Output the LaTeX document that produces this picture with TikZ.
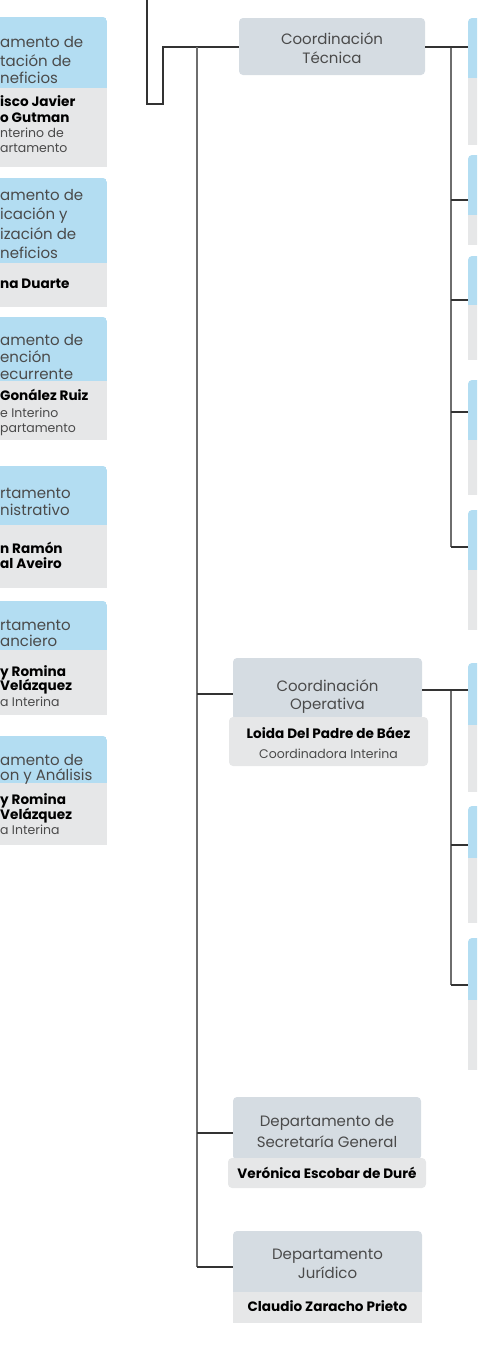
\documentclass[tikz,border=0pt]{standalone}
\usepackage{fontspec}
\setmainfont{Poppins}
\definecolor{hdrblue}{HTML}{B3DDF2}
\definecolor{bodygrey}{HTML}{E6E7E8}
\definecolor{coordfill}{HTML}{D5DCE2}
\definecolor{linedark}{HTML}{333333}
\definecolor{spinegrey}{HTML}{6E6E6E}
\definecolor{titlegrey}{HTML}{4A4A4A}
\newcommand\orgbox[6]{%
  \begin{scope}
    \clip[rounded corners=4pt] (#2,#4) rectangle (#3,#6+20);
    \fill[hdrblue] (#2,#4) rectangle (#3,#5);
    \fill[bodygrey] (#2,#5) rectangle (#3,#6);
  \end{scope}
  \coordinate (#1) at (#2,#4);}
\begin{document}
\begin{tikzpicture}[x=1pt,y=-1pt,
  ttl/.style={font=\fontsize{15}{18}\selectfont, text=titlegrey, inner sep=0pt, text height=1.5ex, text depth=.3ex, yshift=-3pt},
  nm/.style={font=\bfseries\fontsize{13.6}{15}\selectfont, text=black, inner sep=0pt, text height=1.5ex, text depth=.3ex, yshift=-2pt},
  sub/.style={font=\fontsize{12.5}{14}\selectfont, text=titlegrey, inner sep=0pt, text height=1.5ex, text depth=.3ex, yshift=-2pt},
  coordbox/.style={fill=coordfill, rounded corners=4pt, inner sep=0pt},
  namebox/.style={fill=bodygrey, rounded corners=4pt, inner sep=0pt},
  conn/.style={draw=linedark, line width=1.2pt},
  spine/.style={draw=spinegrey, line width=1.8pt},
]
\useasboundingbox (0,0) rectangle (477,1355);
\clip (0,0) rectangle (477,1355);

% ---------- left column (cut) ----------
\orgbox{l1}{-20}{107}{17}{88}{167}
\orgbox{l2}{-20}{107}{178}{263}{307}
\orgbox{l3}{-20}{107}{317}{381}{440}
\orgbox{l4}{-20}{107}{466}{525}{588}
\orgbox{l5}{-20}{107}{601}{650}{715}
\orgbox{l6}{-20}{107}{736}{783}{845}

\node[ttl, anchor=west] (l1a) at (0,41) {amento de};
\node[ttl, anchor=west] (l1b) at (0,60) {tación de};
\node[ttl, anchor=west] (l1c) at (0,77) {neficios};
\node[nm, anchor=west] (l1d) at (0,101) {isco Javier};
\node[nm, anchor=west] (l1e) at (0,117) {o Gutman};
\node[sub, anchor=west] (l1f) at (0,132) {nterino de};
\node[sub, anchor=west] (l1g) at (0,147) {artamento};

\node[ttl, anchor=west] (l2a) at (0,194) {amento de};
\node[ttl, anchor=west] (l2b) at (0,213) {icación y};
\node[ttl, anchor=west] (l2c) at (0,233) {ización de};
\node[ttl, anchor=west] (l2d) at (0,252) {neficios};
\node[nm, anchor=west] (l2e) at (0,283) {na Duarte};

\node[ttl, anchor=west] (l3a) at (0,339) {amento de};
\node[ttl, anchor=west] (l3b) at (0,356) {ención};
\node[ttl, anchor=west] (l3c) at (0,373) {ecurrente};
\node[nm, anchor=west] (l3d) at (0,395) {Gonález Ruiz};
\node[sub, anchor=west] (l3e) at (0,412) {e Interino};
\node[sub, anchor=west] (l3f) at (0,427) {partamento};

\node[ttl, anchor=west] (l4a) at (0,492) {rtamento};
\node[ttl, anchor=west] (l4b) at (0,509) {nistrativo};
\node[nm, anchor=west] (l4c) at (0,548) {n Ramón};
\node[nm, anchor=west] (l4d) at (0,563) {al Aveiro};

\node[ttl, anchor=west] (l5a) at (0,624) {rtamento};
\node[ttl, anchor=west] (l5b) at (0,640) {anciero};
\node[nm, anchor=west] (l5c) at (0,671) {y Romina};
\node[nm, anchor=west] (l5d) at (0,685) {Velázquez};
\node[sub, anchor=west] (l5e) at (0,701) {a Interina};

\node[ttl, anchor=west] (l6a) at (0,759) {amento de};
\node[ttl, anchor=west] (l6b) at (0,774) {on y Análisis};
\node[nm, anchor=west] (l6c) at (0,799) {y Romina};
\node[nm, anchor=west] (l6d) at (0,814) {Velázquez};
\node[sub, anchor=west] (l6e) at (0,829) {a Interina};

% ---------- right column (cut) ----------
\orgbox{r1b}{468}{510}{18}{78}{145}
\orgbox{r2b}{468}{510}{155}{215}{245}
\orgbox{r3b}{468}{510}{256}{305}{360}
\orgbox{r4b}{468}{510}{380}{440}{495}
\orgbox{r5b}{468}{510}{510}{570}{630}
\orgbox{r6b}{468}{510}{663}{725}{792}
\orgbox{r7b}{468}{510}{806}{858}{923}
\orgbox{r8b}{468}{510}{938}{1000}{1070}
\coordinate (r1) at (468,47);
\coordinate (r2) at (468,200);
\coordinate (r3) at (468,300);
\coordinate (r4) at (468,412);
\coordinate (r5) at (468,547);
\coordinate (r6) at (468,690);
\coordinate (r7) at (468,845);
\coordinate (r8) at (468,985);

% ---------- central boxes ----------
\node[coordbox, minimum width=186pt, minimum height=57pt] (ct) at (332,46.5) {};
\node[ttl] (ct1) at (332,38) {Coordinación};
\node[ttl] (ct2) at (332,57) {Técnica};

\node[coordbox, minimum width=189pt, minimum height=62pt] (co) at (327.5,689) {};
\node[namebox, minimum width=199pt, minimum height=49pt] (con) at (328.5,741.5) {};
\node[ttl] (co1) at (327.5,685) {Coordinación};
\node[ttl] (co2) at (327.5,703) {Operativa};
\node[nm] (co3) at (328.5,733) {Loida Del Padre de Báez};
\node[sub] (co4) at (328.5,753) {Coordinadora Interina};

\node[coordbox, minimum width=188pt, minimum height=63pt] (sg) at (327,1128.5) {};
\node[namebox, minimum width=198pt, minimum height=30pt] (sgn) at (327,1173) {};
\node[ttl] (sg1) at (327,1120) {Departamento de};
\node[ttl] (sg2) at (327,1141) {Secretaría General};
\node[nm] (sg3) at (327,1173) {Verónica Escobar de Duré};

\node[coordbox, minimum width=189pt, minimum height=65pt] (jur) at (327.5,1263.5) {};
\node[fill=bodygrey, inner sep=0pt, minimum width=189pt, minimum height=31pt] (jurn) at (327.5,1307.5) {};
\node[ttl] (jr1) at (327.5,1253) {Departamento};
\node[ttl] (jr2) at (327.5,1272) {Jurídico};
\node[nm] (jr3) at (327.5,1306) {Claudio Zaracho Prieto};

% ---------- connectors ----------
\coordinate (a0) at (147,0);
\coordinate (a1) at (147,104);
\coordinate (a2) at (163,104);
\coordinate (a3) at (163,47);
\draw[conn] (a0) -- (a1) -- (a2) -- (a3) -- (a3 -| ct.west);

\coordinate (s0) at (197,47);
\coordinate (s1) at (197,694);
\coordinate (s2) at (197,1133);
\coordinate (s3) at (197,1267);
\draw[spine] (s0) -- (s3);
\draw[conn] (s1) -- (s1 -| co.west);
\draw[conn] (s2) -- (s2 -| sg.west);
\draw[conn] (s3) -- (s3 -| jur.west);

\coordinate (t0) at (451,47);
\coordinate (t2) at (451,200);
\coordinate (t3) at (451,300);
\coordinate (t4) at (451,412);
\coordinate (t5) at (451,547);
\draw[spine] (t0) -- (t5);
\draw[conn] (r1 -| ct.east) -- (r1);
\draw[conn] (t2) -- (r2);
\draw[conn] (t3) -- (r3);
\draw[conn] (t4) -- (r4);
\draw[conn] (t5) -- (r5);

\coordinate (u0) at (451,690);
\coordinate (u7) at (451,845);
\coordinate (u8) at (451,985);
\draw[spine] (u0) -- (u8);
\draw[conn] (r6 -| co.east) -- (r6);
\draw[conn] (u7) -- (r7);
\draw[conn] (u8) -- (r8);
\end{tikzpicture}
\end{document}
